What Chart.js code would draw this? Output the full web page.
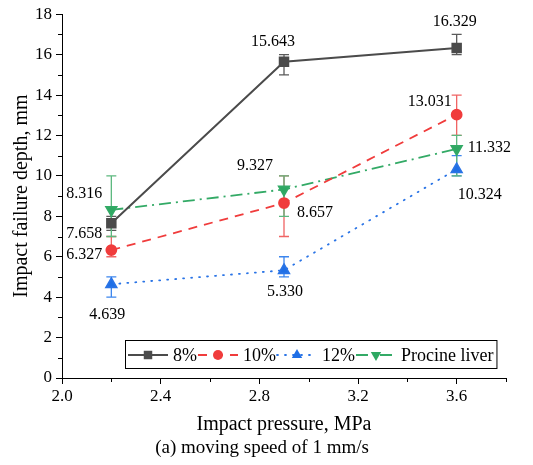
<!DOCTYPE html>
<html>
<head>
<meta charset="utf-8">
<script src="https://cdn.jsdelivr.net/npm/chart.js@4"></script>
<style>
  html, body { margin: 0; padding: 0; background: #fff; }
</style>
</head>
<body>
<canvas id="myChart" width="533" height="465"></canvas>
<script>
var pressure = [2.2, 2.9, 3.6];
var names = ["8%", "10%", "12%", "Procine liver"];

var depth8 = [7.658, 15.643, 16.329];
var depth10 = [6.327, 8.657, 13.031];
var depth12 = [4.639, 5.330, 10.324];
var depthLiver = [8.316, 9.327, 11.332];

// error bar ends
var low8 = [7.3, 15.0, 16.0];
var high8 = [8.0, 16.0, 17.0];
var low10 = [6.0, 7.0, 12.0];
var high10 = [7.0, 10.0, 14.0];
var low12 = [4.0, 5.0, 10.0];
var high12 = [5.0, 6.0, 11.0];
var lowLiver = [7.0, 8.0, 10.0];
var highLiver = [10.0, 10.0, 12.0];

var xTicks = [2.0, 2.4, 2.8, 3.2, 3.6];
var yTicks = [0, 2, 4, 6, 8, 10, 12, 14, 16, 18];

var serif = "Liberation Serif";
Chart.defaults.font.family = serif;
Chart.defaults.color = "#000";

function points(ys) {
  return pressure.map(function (x, i) { return { x: x, y: ys[i] }; });
}

// label offsets relative to the point: [dx, dy, align]
var datasets = [
  {
    label: names[0], data: points(depth8), low: low8, high: high8,
    borderColor: "#4b4b4b", backgroundColor: "#4b4b4b", errColor: "#5a5a5a",
    borderWidth: 2, borderDash: [], pointStyle: "rect", pointRadius: 6, pointRotation: 0,
    labelPos: [[-9, 11, "right"], [-11, -20, "center"], [-2, -26, "center"]]
  },
  {
    label: names[1], data: points(depth10), low: low10, high: high10,
    borderColor: "#f03c3c", backgroundColor: "#f03c3c", errColor: "#f06464",
    borderWidth: 1.8, borderDash: [9, 7], pointStyle: "circle", pointRadius: 5, pointRotation: 0,
    labelPos: [[-9, 5, "right"], [13, 10, "left"], [-5, -13, "right"]]
  },
  {
    label: names[2], data: points(depth12), low: low12, high: high12,
    borderColor: "#2a74e6", backgroundColor: "#1f6fe6", errColor: "#3c86ee",
    borderWidth: 1.8, borderDash: [1, 7], borderCapStyle: "round", pointStyle: "triangle", pointRadius: 6, pointRotation: 0,
    labelPos: [[-4, 31, "center"], [1, 22, "center"], [1, 25, "left"]]
  },
  {
    label: names[3], data: points(depthLiver), low: lowLiver, high: highLiver,
    borderColor: "#33aa66", backgroundColor: "#2ea862", errColor: "#5cb87e",
    borderWidth: 1.8, borderDash: [12, 5, 2, 5], pointStyle: "triangle", pointRadius: 6, pointRotation: 180,
    labelPos: [[-9, -16, "right"], [-11, -24, "right"], [11, -1, "left"]]
  }
];

var errorBars = {
  id: "errorBars",
  beforeDatasetsDraw: function (chart) {
    var ctx = chart.ctx, xs = chart.scales.x, ys = chart.scales.y;
    chart.data.datasets.forEach(function (ds) {
      ctx.save();
      ctx.strokeStyle = ds.errColor;
      ctx.lineWidth = 1.3;
      ds.data.forEach(function (p, i) {
        var x = xs.getPixelForValue(p.x);
        var y1 = ys.getPixelForValue(ds.low[i]);
        var y2 = ys.getPixelForValue(ds.high[i]);
        ctx.beginPath();
        ctx.moveTo(x, y1); ctx.lineTo(x, y2);
        ctx.moveTo(x - 5, y1); ctx.lineTo(x + 5, y1);
        ctx.moveTo(x - 5, y2); ctx.lineTo(x + 5, y2);
        ctx.stroke();
      });
      ctx.restore();
    });
  }
};

var valueLabels = {
  id: "valueLabels",
  afterDatasetsDraw: function (chart) {
    var ctx = chart.ctx, xs = chart.scales.x, ys = chart.scales.y;
    ctx.save();
    ctx.font = "16px '" + serif + "', serif";
    ctx.fillStyle = "#000";
    ctx.textBaseline = "middle";
    chart.data.datasets.forEach(function (ds) {
      ds.data.forEach(function (p, i) {
        var pos = ds.labelPos[i];
        ctx.textAlign = pos[2];
        ctx.fillText(p.y.toFixed(3), xs.getPixelForValue(p.x) + pos[0], ys.getPixelForValue(p.y) + pos[1]);
      });
    });
    ctx.restore();
  }
};

function drawMarker(ctx, ds, x, y) {
  Chart.helpers.drawPoint(ctx, {
    pointStyle: ds.pointStyle, radius: ds.pointRadius, rotation: ds.pointRotation, borderWidth: 0
  }, x, y);
}

var extras = {
  id: "extras",
  afterDraw: function (chart) {
    var ctx = chart.ctx, xs = chart.scales.x, ys = chart.scales.y, a = chart.chartArea;
    ctx.save();
    // minor ticks
    ctx.strokeStyle = "#000";
    ctx.lineWidth = 1;
    ctx.beginPath();
    [2.2, 2.6, 3.0, 3.4, 3.8].forEach(function (v) {
      var x = Math.round(xs.getPixelForValue(v)) + 0.5;
      ctx.moveTo(x, a.bottom); ctx.lineTo(x, a.bottom + 4);
    });
    for (var v = 1; v < 18; v += 2) {
      var y = Math.round(ys.getPixelForValue(v)) + 0.5;
      ctx.moveTo(a.left, y); ctx.lineTo(a.left - 4, y);
    }
    ctx.stroke();

    // legend
    ctx.font = "18px '" + serif + "', serif";
    ctx.textBaseline = "middle";
    ctx.textAlign = "left";
    var lx = a.left + 63, ly = a.bottom - 38, lh = 28;
    var x = lx + 3, cy = ly + lh / 2 + 1;
    chart.data.datasets.forEach(function (ds) {
      ctx.save();
      ctx.strokeStyle = ds.borderColor;
      ctx.lineWidth = ds.borderWidth;
      ctx.setLineDash(ds.borderDash);
      ctx.lineCap = ds.borderCapStyle || "butt";
      ctx.beginPath(); ctx.moveTo(x, cy); ctx.lineTo(x + 40, cy); ctx.stroke();
      ctx.setLineDash([]);
      ctx.fillStyle = ds.backgroundColor;
      drawMarker(ctx, ds, x + 20, cy);
      ctx.restore();
      ctx.fillStyle = "#000";
      ctx.fillText(ds.label, x + 45, cy + 1);
      x += 45 + ctx.measureText(ds.label).width + 1;
    });
    ctx.strokeStyle = "#000";
    ctx.lineWidth = 1;
    ctx.strokeRect(lx + 0.5, ly + 0.5, x - lx + 2, lh);

    // caption
    ctx.font = "19px '" + serif + "', serif";
    ctx.textAlign = "center";
    ctx.fillStyle = "#000";
    ctx.fillText("(a) moving speed of 1 mm/s", 262, 448);
    ctx.restore();
  }
};

var config = {
  type: "line",
  data: { datasets: datasets },
  options: {
    responsive: false,
    animation: false,
    devicePixelRatio: 1,
    layout: { padding: { top: 13, right: 27, left: 0, bottom: 0 } },
    elements: { line: { tension: 0 } },
    plugins: { legend: { display: false }, tooltip: { enabled: false } },
    scales: {
      x: {
        type: "linear", min: 2.0, max: 3.8,
        afterFit: function (s) { s.height = 87; },
        afterBuildTicks: function (s) { s.ticks = xTicks.map(function (v) { return { value: v }; }); },
        ticks: { color: "#000", font: { family: serif, size: 17 }, padding: 2, maxRotation: 0,
          callback: function (v) { return v.toFixed(1); } },
        grid: { drawOnChartArea: false, drawTicks: true, tickLength: 6, color: "#000" },
        border: { color: "#000", width: 1 },
        title: { display: true, text: "Impact pressure, MPa", color: "#000",
          font: { family: serif, size: 20 }, padding: { top: 0, bottom: 28 } }
      },
      y: {
        type: "linear", min: 0, max: 18,
        afterFit: function (s) { s.width = 62; },
        afterBuildTicks: function (s) { s.ticks = yTicks.map(function (v) { return { value: v }; }); },
        ticks: { color: "#000", font: { family: serif, size: 17 }, padding: 4 },
        grid: { drawOnChartArea: false, drawTicks: true, tickLength: 6, color: "#000" },
        border: { color: "#000", width: 1 },
        title: { display: true, text: "Impact failure depth, mm", color: "#000",
          font: { family: serif, size: 20, lineHeight: 2.2 }, padding: 0 }
      }
    }
  },
  plugins: [errorBars, valueLabels, extras]
};

var myChart = new Chart(document.getElementById("myChart"), config);
</script>
</body>
</html>
